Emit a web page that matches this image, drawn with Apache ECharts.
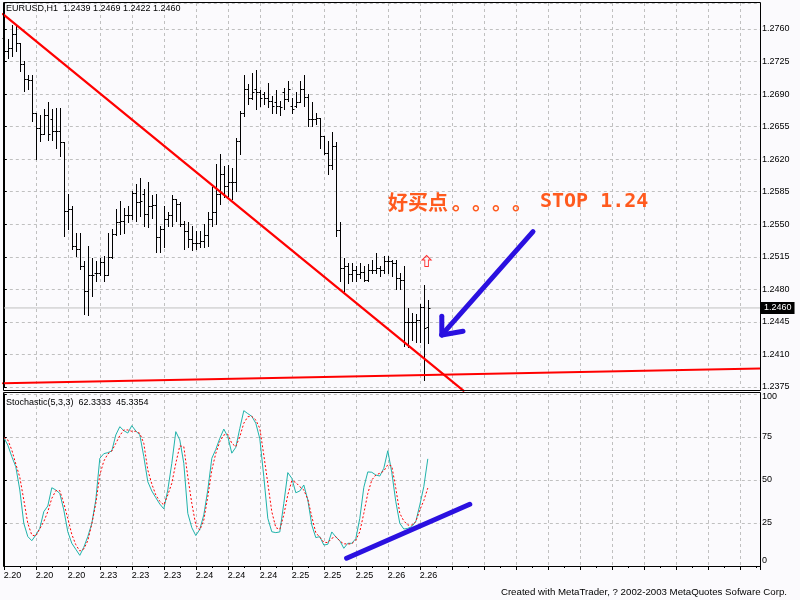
<!DOCTYPE html>
<html><head><meta charset="utf-8">
<script src="https://cdn.jsdelivr.net/npm/echarts@6/dist/echarts.min.js"></script>
<style>html,body{margin:0;padding:0;background:#fbfafd}#c{width:800px;height:600px}</style>
</head><body><div id="c"></div>
<script>
// ---- data (EURUSD H1) ----
const opens  = [1.2750,1.2736,1.2739,1.2755,1.2745,1.2722,1.2706,1.2705,1.2670,1.2654,1.2647,1.2668,1.2663,1.2650,1.2650,1.2638,1.2564,1.2566,1.2527,1.2523,1.2505,1.2478,1.2495,1.2498,1.2498,1.2509,1.2495,1.2515,1.2540,1.2552,1.2553,1.2560,1.2560,1.2584,1.2574,1.2582,1.2561,1.2570,1.2571,1.2536,1.2545,1.2556,1.2560,1.2577,1.2572,1.2550,1.2543,1.2534,1.2530,1.2530,1.2532,1.2538,1.2556,1.2563,1.2582,1.2604,1.2591,1.2595,1.2595,1.2640,1.2670,1.2695,1.2686,1.2695,1.2692,1.2690,1.2686,1.2683,1.2681,1.2677,1.2692,1.2685,1.2677,1.2677,1.2681,1.2695,1.2687,1.2663,1.2663,1.2664,1.2645,1.2627,1.2614,1.2634,1.2544,1.2503,1.2505,1.2496,1.2501,1.2496,1.2499,1.2490,1.2501,1.2501,1.2503,1.2501,1.2510,1.2510,1.2508,1.2492,1.2490,1.2445,1.2445,1.2445,1.2447,1.2461,1.2439];
const highs  = [1.2761,1.2749,1.2764,1.2765,1.2745,1.2725,1.2711,1.2711,1.2670,1.2668,1.2674,1.2681,1.2674,1.2675,1.2675,1.2638,1.2582,1.2570,1.2541,1.2541,1.2511,1.2527,1.2514,1.2511,1.2514,1.2516,1.2541,1.2545,1.2566,1.2575,1.2568,1.2570,1.2586,1.2593,1.2600,1.2588,1.2595,1.2581,1.2582,1.2548,1.2570,1.2563,1.2581,1.2577,1.2574,1.2554,1.2552,1.2548,1.2543,1.2543,1.2550,1.2563,1.2590,1.2615,1.2625,1.2613,1.2614,1.2611,1.2643,1.2672,1.2710,1.2701,1.2713,1.2716,1.2694,1.2692,1.2702,1.2688,1.2694,1.2683,1.2697,1.2704,1.2686,1.2692,1.2704,1.2711,1.2690,1.2681,1.2670,1.2664,1.2645,1.2640,1.2649,1.2638,1.2552,1.2514,1.2508,1.2508,1.2505,1.2508,1.2505,1.2507,1.2512,1.2519,1.2505,1.2516,1.2516,1.2512,1.2512,1.2498,1.2505,1.2460,1.2455,1.2453,1.2464,1.2485,1.2469];
const lows   = [1.2733,1.2729,1.2731,1.2736,1.2715,1.2693,1.2695,1.2661,1.2620,1.2640,1.2647,1.2641,1.2641,1.2632,1.2623,1.2537,1.2545,1.2523,1.2516,1.2502,1.2454,1.2452,1.2473,1.2489,1.2495,1.2489,1.2495,1.2514,1.2538,1.2540,1.2541,1.2552,1.2556,1.2554,1.2559,1.2548,1.2547,1.2557,1.2520,1.2520,1.2525,1.2548,1.2548,1.2554,1.2548,1.2523,1.2525,1.2522,1.2523,1.2525,1.2525,1.2527,1.2548,1.2550,1.2572,1.2579,1.2580,1.2577,1.2586,1.2626,1.2666,1.2679,1.2685,1.2674,1.2677,1.2679,1.2676,1.2670,1.2670,1.2668,1.2674,1.2683,1.2670,1.2676,1.2681,1.2677,1.2656,1.2656,1.2658,1.2632,1.2625,1.2604,1.2609,1.2537,1.2489,1.2478,1.2487,1.2489,1.2489,1.2492,1.2489,1.2489,1.2498,1.2498,1.2494,1.2498,1.2498,1.2494,1.2480,1.2480,1.2419,1.2418,1.2425,1.2423,1.2423,1.2382,1.2422];
const closes = [1.2736,1.2739,1.2755,1.2745,1.2722,1.2706,1.2705,1.2670,1.2654,1.2647,1.2668,1.2647,1.2650,1.2650,1.2638,1.2564,1.2566,1.2527,1.2523,1.2505,1.2478,1.2495,1.2495,1.2498,1.2509,1.2495,1.2515,1.2540,1.2552,1.2553,1.2560,1.2560,1.2584,1.2574,1.2575,1.2561,1.2570,1.2571,1.2536,1.2545,1.2556,1.2560,1.2577,1.2572,1.2550,1.2543,1.2534,1.2530,1.2530,1.2532,1.2538,1.2556,1.2563,1.2582,1.2604,1.2591,1.2595,1.2595,1.2640,1.2670,1.2695,1.2686,1.2692,1.2692,1.2686,1.2686,1.2683,1.2677,1.2677,1.2676,1.2685,1.2695,1.2674,1.2681,1.2695,1.2687,1.2663,1.2663,1.2664,1.2645,1.2627,1.2614,1.2634,1.2544,1.2503,1.2505,1.2496,1.2501,1.2496,1.2499,1.2490,1.2501,1.2501,1.2503,1.2501,1.2510,1.2510,1.2508,1.2492,1.2490,1.2445,1.2445,1.2445,1.2447,1.2461,1.2438,1.2460];
const stochK = [74.6,70.3,63.6,57.7,44.2,24.8,17.1,14.7,18.0,21.9,31.6,34.9,45.5,44.2,42.2,32.6,19.9,13.2,9.7,6.2,10.9,17.1,24.8,38.4,62.6,65.3,65.9,66.9,76.2,81.0,78.7,77.3,81.6,78.5,76.2,63.6,49.0,43.6,39.7,36.0,33.2,44.2,59.7,78.1,73.3,59.7,30.6,22.3,17.7,21.3,29.7,44.2,62.6,67.8,74.2,79.6,75.2,65.6,69.0,80.0,90.3,88.6,87.0,83.0,74.0,51.9,27.7,19.9,19.4,19.8,36.4,54.3,51.0,42.6,43.6,47.1,38.4,23.8,16.5,17.1,12.2,12.6,19.8,16.9,14.7,10.3,13.2,13.2,15.9,27.7,45.7,54.7,54.5,52.9,52.3,56.8,67.0,54.3,37.4,24.8,21.5,21.9,22.9,25.8,35.5,46.1,62.3];
const stochD = [74.6,73.3,67.4,59.3,51.6,38.4,24.8,18.0,17.4,21.7,25.8,31.6,39.3,43.8,43.8,36.4,27.7,18.4,12.4,8.7,9.9,14.7,24.4,36.4,52.9,61.0,65.1,66.9,71.3,75.8,79.1,79.1,78.3,78.3,77.1,71.3,55.8,47.7,41.3,37.6,35.5,41.3,48.1,59.7,69.8,69.4,51.9,36.4,23.8,20.9,26.7,40.3,55.8,65.5,72.3,76.2,76.6,71.3,69.4,75.2,83.0,86.8,87.0,84.9,80.0,64.5,48.1,31.6,22.3,21.3,29.7,41.3,49.6,48.6,46.1,44.2,38.8,28.7,19.4,16.7,13.8,13.6,16.1,17.1,14.5,12.9,12.8,12.9,15.1,19.9,30.6,42.2,50.0,52.9,53.9,55.2,58.9,58.1,45.2,30.6,26.2,23.8,23.8,25.8,32.6,38.0,45.3];
const dateLabels = ['2.20','2.20','2.20','2.23','2.23','2.23','2.24','2.24','2.24','2.25','2.25','2.25','2.26','2.26'];
const trendLine = [[-0.2,1.2776],[114.9,1.2371]];
const supportLine = [[-0.2,1.2379],[189.05,1.2395]];
const bidPrice = 1.2460;
const upArrowPoint = [105.7,1.25105];
const blueArrowShaft = [[132.3,1.2542],[109.5,1.2431]];
const blueArrowHeadA = [[109.5,1.2431],[109.5,1.2451]];
const blueArrowHeadB = [[109.5,1.2431],[114.8,1.2435]];
const stochTrend = [[85.7,4.5],[116.5,35.9]];
const priceTicks = {min:1.2375, step:0.0035, top:1.27879};

// ---- fonts ----
function hasFont(name){
  const c=document.createElement('canvas').getContext('2d');
  const s='1.2760 abcdefgWMx';
  c.font='40px monospace'; const a=c.measureText(s).width;
  c.font='40px "'+name+'", monospace'; const b=c.measureText(s).width;
  return Math.abs(a-b)>0.5;
}
const narrow = hasFont('Liberation Sans Narrow');
const F = narrow ? '"Liberation Sans Narrow", "Liberation Sans", sans-serif' : '"Liberation Sans", Arial, sans-serif';
const FS = narrow ? 11 : 9;
const FS2 = narrow ? 12 : 9.7;

// ---- build ----
const ohlc = opens.map((o,i)=>[i,o,highs[i],lows[i],closes[i]]);
const kLine = stochK.map((v,i)=>[i,v]);
const dLine = stochD.map((v,i)=>[i,v]);
const XMAX = 189.05;
const dash = [3,3];
const gridColor = '#c0c0c0';
const orange = '#ff5a1e';

const chart = echarts.init(document.getElementById('c'), null, {renderer:'canvas'});
const blue = '#2a10e0';
function seg(data, xi, yi, color, w, extra){
  return Object.assign({type:'line', xAxisIndex:xi, yAxisIndex:yi, data:data, symbol:'none', silent:true,
    clip:false, animation:false, lineStyle:{color:color, width:w, cap:'round'}, z:5}, extra||{});
}
const dots = [452,472,492,512].map(function(x){
  return {type:'text', x:x, y:202, style:{text:'。', font:'bold 20px "Noto Sans CJK SC", sans-serif', fill:orange, verticalAlign:'middle'}, z:100, silent:true};
});
chart.setOption({
  backgroundColor:'#fbfafd',
  animation:false,
  textStyle:{fontFamily:F},
  grid:[
    {left:3.8, right:40, top:3, height:384},
    {left:3.8, right:40, top:394, height:172}
  ],
  xAxis:[
    {type:'value', gridIndex:0, min:0, max:XMAX, interval:8,
     axisLine:{show:false}, axisTick:{show:false}, axisLabel:{show:false},
     splitLine:{show:true, lineStyle:{color:gridColor, type:dash}}},
    {type:'value', gridIndex:1, min:0, max:XMAX, interval:8,
     axisLine:{show:false},
     axisTick:{show:true, length:4, lineStyle:{color:'#000'}},
     minorTick:{show:true, splitNumber:2, length:2, lineStyle:{color:'#000'}},
     axisLabel:{show:true, align:'left', margin:5, fontSize:FS, fontFamily:F, color:'#000',
       showMaxLabel:false,
       formatter:function(v){const i=Math.round(v/8); return (Math.abs(v-i*8)<1e-6 && dateLabels[i])?dateLabels[i]:'';}},
     splitLine:{show:true, lineStyle:{color:gridColor, type:dash}}}
  ],
  yAxis:[
    {type:'value', gridIndex:0, position:'right', min:priceTicks.min, max:priceTicks.top, interval:priceTicks.step,
     axisLine:{show:true, lineStyle:{color:'#000'}},
     axisTick:{show:true, length:3, lineStyle:{color:'#000'}},
     axisLabel:{show:true, margin:2, fontSize:FS, fontFamily:F, color:'#000', showMaxLabel:false,
       formatter:function(v){return v.toFixed(4);}},
     splitLine:{show:true, lineStyle:{color:gridColor, type:dash}}},
    {type:'value', gridIndex:1, position:'right', min:0, max:100, interval:25,
     axisLine:{show:true, lineStyle:{color:'#000'}},
     axisTick:{show:true, length:3, lineStyle:{color:'#000'}},
     axisLabel:{show:true, margin:2, fontSize:FS, fontFamily:F, color:'#000',
       formatter:function(v){ if(v===0) return '{b|0}'; if(v===100) return '{t|100}'; return String(v);},
       rich:{b:{fontSize:FS, fontFamily:F, color:'#000', padding:[0,0,11,0]}, t:{fontSize:FS, fontFamily:F, color:'#000', padding:[6,0,0,0]}}},
     splitLine:{show:true, lineStyle:{color:gridColor, type:dash}}}
  ],
  series:[
    {type:'line', xAxisIndex:0, yAxisIndex:0, data:[[0,bidPrice],[XMAX,bidPrice]], symbol:'none', silent:true, z:2,
     lineStyle:{color:'#c0c0c0', width:1},
     endLabel:{show:true, distance:1, formatter:bidPrice.toFixed(4), color:'#fff', backgroundColor:'#000',
       fontSize:FS, fontFamily:F, padding:[2,3,1,3]}},
    {type:'custom', xAxisIndex:0, yAxisIndex:0, data:ohlc, clip:false, z:3, silent:true,
     encode:{x:0, y:[1,2,3,4]},
     renderItem:function(params, api){
       const k=api.value(0);
       const h=api.coord([k,api.value(2)]), l=api.coord([k,api.value(3)]);
       const o=api.coord([k,api.value(1)]), c=api.coord([k,api.value(4)]);
       const x=Math.round(h[0])+0.5;
       const yo=Math.round(o[1])+0.5, yc=Math.round(c[1])+0.5;
       const st={stroke:'#000', lineWidth:1};
       return {type:'group', children:[
         {type:'line', shape:{x1:x, y1:Math.round(h[1]), x2:x, y2:Math.round(l[1])+1}, style:st},
         {type:'line', shape:{x1:x-2, y1:yo, x2:x, y2:yo}, style:st},
         {type:'line', shape:{x1:x, y1:yc, x2:x+2, y2:yc}, style:st}
       ]};
     }},
    seg(supportLine,0,0,'#ff0000',2,{z:4}),
    seg(trendLine,0,0,'#ff0000',2.2,{z:4}),
    {type:'scatter', xAxisIndex:0, yAxisIndex:0, data:[upArrowPoint], silent:true, z:6,
     symbol:'path://M5,0 L10,5 L7,5 L7,12 L3,12 L3,5 L0,5 Z', symbolSize:[9,11],
     itemStyle:{color:'rgba(0,0,0,0)', borderColor:'#ff0000', borderWidth:1}},
    seg(blueArrowShaft,0,0,blue,5),
    seg(blueArrowHeadA,0,0,blue,5),
    seg(blueArrowHeadB,0,0,blue,5),
    {type:'line', xAxisIndex:1, yAxisIndex:1, data:kLine, symbol:'none', silent:true, z:3,
     lineStyle:{color:'#20b2aa', width:1}},
    {type:'line', xAxisIndex:1, yAxisIndex:1, data:dLine, symbol:'none', silent:true, z:3,
     lineStyle:{color:'#ff0000', width:1, type:[2,2]}},
    seg(stochTrend,1,1,blue,5)
  ],
  graphic:[
    {type:'rect', shape:{x:3.5, y:2.5, width:757, height:388}, style:{fill:null, stroke:'#000', lineWidth:1}, z:100, silent:true},
    {type:'rect', shape:{x:3.5, y:392.5, width:757, height:174}, style:{fill:null, stroke:'#000', lineWidth:1}, z:100, silent:true},
    {type:'text', x:6, y:9, style:{text:'EURUSD,H1  1.2439 1.2469 1.2422 1.2460', font:FS+'px '+F, fill:'#000', verticalAlign:'middle'}, z:100, silent:true},
    {type:'text', x:6, y:403, style:{text:'Stochastic(5,3,3)  62.3333  45.3354', font:FS+'px '+F, fill:'#000', verticalAlign:'middle'}, z:100, silent:true},
    {type:'text', x:388, y:202, style:{text:'好买点', font:'bold 20px "Noto Sans CJK SC", sans-serif', fill:orange, verticalAlign:'middle'}, z:100, silent:true},
    {type:'text', x:540, y:202, style:{text:'STOP 1.24', font:'bold 20px "DejaVu Sans Mono", monospace', fill:orange, verticalAlign:'middle'}, z:100, silent:true},
    {type:'text', x:787, y:592, style:{text:'Created with MetaTrader, ? 2002-2003 MetaQuotes Sofware Corp.', font:FS2+'px '+F, fill:'#000', align:'right', verticalAlign:'middle'}, z:100, silent:true}
  ].concat(dots)
});
</script></body></html>
